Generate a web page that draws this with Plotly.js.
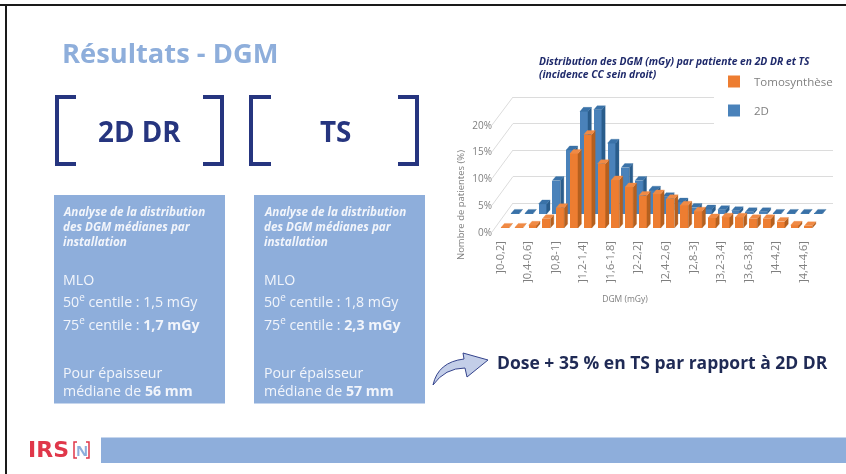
<!DOCTYPE html>
<html><head><meta charset="utf-8">
<script src="https://cdn.plot.ly/plotly-3.0.0.min.js"></script>
<style>html,body{margin:0;padding:0;background:#fff;overflow:hidden}#c{width:846px;height:474px;filter:blur(0.35px)}</style>
</head><body><div id="c"></div>
<script>
const binIndex = [0,1,2,3,4,5,6,7,8,9,10,11,12,13,14,15,16,17,18,19,20,21,22];
const tomoValues = [0.1,0.1,0.5,1.7,3.75,13.8,17.3,11.9,8.9,7.6,6,6.3,5.4,4.2,3.1,1.85,2,2,1.7,1.7,1.2,0.5,0.4];
const dr2dValues = [0.1,0.1,1.85,6.2,11.85,19,19.3,13.1,8.6,6.2,4.4,3.2,2.2,1.2,0.9,0.8,0.6,0.4,0.4,0.1,0.1,0.1,0.1];
const tickBins = [0,2,4,6,8,10,12,14,16,18,20,22];
const tickLabels = [']0-0,2]',']0,4-0,6]',']0,8-1]',']1,2-1,4]',']1,6-1,8]',']2-2,2]',']2,4-2,6]',']2,8-3]',']3,2-3,4]',']3,6-3,8]',']4-4,2]',']4,4-4,6]'];
const yTicks = [0,5,10,15,20];
const yTickLabels = ['0%','5%','10%','15%','20%'];

const W=846,H=474,STEP=13.79,PXY=5.4,BARW=0.58,DX=0.25,DY=0.75;
const GREY='#7f7f7f',BOX='#8eaedb',NAVY='#26357f',FONT='"Open Sans", sans-serif';
const dom=(a,b)=>[a/W,b/W], vdom=(top,bot)=>[1-bot/H,1-top/H];
function xAxis(p0,a,b,extra){return Object.assign({domain:dom(a,b),range:[(a-p0)/STEP,(b-p0)/STEP],showgrid:false,zeroline:false,showline:false,showticklabels:false,ticks:''},extra||{});}
function faces(vals){
  const sx=[],sy=[],tx=[],ty=[];
  binIndex.forEach((i,k)=>{const v=vals[k],r=i+BARW/2,l=i-BARW/2;
    sx.push(r,r+DX,r+DX,r,r,null);sy.push(0,DY,v+DY,v,0,null);
    tx.push(l,l+DX,r+DX,r,l,null);ty.push(v,v+DY,v+DY,v,v,null);});
  return {sx,sy,tx,ty};
}
function poly(x,y,color,xa,ya){return {type:'scatter',mode:'lines',x,y,xaxis:xa,yaxis:ya,fill:'toself',fillcolor:color,line:{width:0.3,color},showlegend:false,hoverinfo:'skip'};}
const fb=faces(dr2dValues),fo=faces(tomoValues);
const traces=[
  {type:'scatter',mode:'lines',x:[0],y:[0],xaxis:'x',yaxis:'y',line:{width:0},showlegend:false,hoverinfo:'skip'},
  {type:'scatter',mode:'lines',x:[0],y:[0],xaxis:'x2',yaxis:'y2',line:{width:0},showlegend:false,hoverinfo:'skip'},
  {type:'bar',name:'2D',x:binIndex,y:dr2dValues,width:BARW,xaxis:'x3',yaxis:'y3',marker:{color:'#4a82ba'},legendgroup:'b',legendrank:2},
  poly(fb.sx,fb.sy,'#2a5d8c','x3','y3'),poly(fb.tx,fb.ty,'#3a72a8','x3','y3'),
  {type:'bar',name:'Tomosynthèse',x:binIndex,y:tomoValues,width:BARW,xaxis:'x4',yaxis:'y4',marker:{color:'#ed7d31'},legendgroup:'o',legendrank:1},
  poly(fo.sx,fo.sy,'#b5601f','x4','y4'),poly(fo.tx,fo.ty,'#f08a45','x4','y4')
];
const diag=yTicks.map(v=>({type:'line',xref:'paper',yref:'paper',x0:492/W,x1:513/W,y0:1-(232-5.35*v)/H,y1:1-(203-5.3*v)/H,line:{color:'#dcdcdc',width:1},layer:'below'}));
const rect=(x0,y0,x1,y1,c)=>({type:'rect',xref:'paper',yref:'paper',x0:x0/W,x1:x1/W,y0:1-y1/H,y1:1-y0/H,fillcolor:c,line:{width:0},layer:'below'});
const path=(d,extra)=>Object.assign({type:'path',xref:'paper',yref:'paper',path:d,line:{color:NAVY,width:4},layer:'below'},extra||{});
const px=(x,y)=>(x/W)+','+(1-y/H);
const bracket=(xo,xi)=>path('M'+px(xi,97)+' L'+px(xo,97)+' L'+px(xo,164)+' L'+px(xi,164));
const shapes=[
  rect(0,4,846,6,'#1a1a1a'),rect(5,4,7,474,'#1a1a1a'),
  rect(54,195,225,403.5,BOX),rect(254,195,425,403.5,BOX),rect(101,437.5,846,463,BOX),
  bracket(57,76),bracket(222,203),bracket(251,271),bracket(417,398),
  path('M'+px(77,442)+' L'+px(74,442)+' L'+px(74,458)+' L'+px(77,458),{line:{color:'#e0374a',width:1.5}}),
  path('M'+px(86,442)+' L'+px(89,442)+' L'+px(89,458)+' L'+px(86,458),{line:{color:'#e0374a',width:1.5}}),
  path('M'+px(433,385)+' Q'+px(438,362)+' '+px(464,359)+' L'+px(463,353)+' L'+px(488,360)+' L'+px(467,377)+' L'+px(465,368)+' Q'+px(445,368)+' '+px(433,385)+' Z',{fillcolor:'#c3cee8',line:{color:'#34438c',width:1}})
].concat(diag);
const T=(x,y,text,size,color,extra)=>Object.assign({xref:'paper',yref:'paper',x:x/W,y:1-y/H,text,showarrow:false,xanchor:'left',yanchor:'middle',align:'left',font:{family:FONT,size,color},xshift:-2},extra||{});
const WH='#f2f5fb';
function boxText(x,d50,d75,mm){return [
  T(x,211,'<b><i>Analyse de la distribution</i></b>',11.7,WH),
  T(x,226,'<b><i>des DGM médianes par</i></b>',11.7,WH),
  T(x,241,'<b><i>installation</i></b>',11.7,WH),
  T(x,279,'MLO',14.2,WH),
  T(x,300.5,'50<sup>e</sup> centile : '+d50+' mGy',14.2,WH),
  T(x,323.5,'75<sup>e</sup> centile : <b>'+d75+' mGy</b>',14.2,WH),
  T(x,372,'Pour épaisseur',14.2,WH),
  T(x,390,'médiane de <b>'+mm+' mm</b>',14.2,WH)];}
const annotations=[
  T(62,52,'<b>Résultats - DGM</b>',27.3,BOX),
  T(139,131,'<b>2D DR</b>',27.8,NAVY,{xanchor:'center',xshift:0}),
  T(335,131,'<b>TS</b>',27.8,NAVY,{xanchor:'center',xshift:0}),
  T(28,449.5,'<b>IRS</b>',23,'#e0374a',{font:{family:'"DejaVu Sans", sans-serif',size:22,color:'#e0374a'}}),
  T(81.5,450,'<b>N</b>',15,BOX,{xanchor:'center',xshift:0}),
  T(497,362,'<b>Dose + 35 % en TS par rapport à 2D DR</b>',17.5,'#1f2a55')
].concat(boxText(63,'1,5','1,7','56'),boxText(264,'1,8','2,3','57'));
const layout={
  width:W,height:H,margin:{l:0,r:0,t:0,b:0,autoexpand:false},paper_bgcolor:'#fff',plot_bgcolor:'rgba(0,0,0,0)',barmode:'overlay',
  title:{text:'<b><i>Distribution des DGM (mGy) par patiente en 2D DR et TS<br>(incidence CC sein droit)</i></b>',x:539/W,y:1-65/H,xanchor:'left',yanchor:'top',xref:'paper',yref:'paper',font:{family:FONT,size:10.3,color:'#1f2a6b'}},
  xaxis:{domain:dom(430,820),range:[(430-500)/STEP,(820-500)/STEP],anchor:'free',position:1-232/H,tickmode:'array',tickvals:tickBins,ticktext:tickLabels,tickangle:-90,tickfont:{family:FONT,size:11,color:GREY},ticks:'',ticklabelstandoff:6,showgrid:false,zeroline:false,showline:false,
    title:{text:'DGM (mGy)',font:{family:FONT,size:8.5,color:GREY},standoff:14}},
  yaxis:{domain:vdom(125,285),range:[-53/5.35,107/5.35],anchor:'free',position:492/W,tickmode:'array',tickvals:yTicks,ticktext:yTickLabels,tickfont:{family:FONT,size:10,color:GREY},ticks:'',showgrid:false,zeroline:false,showline:false,
    title:{text:'Nombre de patientes (%)',font:{family:FONT,size:9.5,color:GREY},standoff:4}},
  xaxis2:xAxis(505,513,833,{anchor:'y2'}),
  yaxis2:{domain:vdom(70,203),range:[0,133/5.3],anchor:'x2',tickmode:'array',tickvals:yTicks,showgrid:true,gridcolor:'#dcdcdc',gridwidth:1,zeroline:true,zerolinecolor:'#dcdcdc',showticklabels:false,ticks:''},
  xaxis3:xAxis(515,492,838,{anchor:'y3'}),
  yaxis3:{domain:vdom(60,214),range:[0,154/PXY],anchor:'x3',showgrid:false,zeroline:false,showticklabels:false,ticks:''},
  xaxis4:xAxis(505,492,838,{anchor:'y4'}),
  yaxis4:{domain:vdom(70,228),range:[0,158/PXY],anchor:'x4',showgrid:false,zeroline:false,showticklabels:false,ticks:''},
  legend:{x:714/W,y:1-67/H,xanchor:'left',yanchor:'top',bgcolor:'#fff',borderwidth:0,tracegroupgap:10,font:{family:FONT,size:11.5,color:GREY},traceorder:'grouped'},
  shapes,annotations,bargap:0
};
Plotly.newPlot('c',traces,layout,{displayModeBar:false,staticPlot:true});
</script></body></html>
